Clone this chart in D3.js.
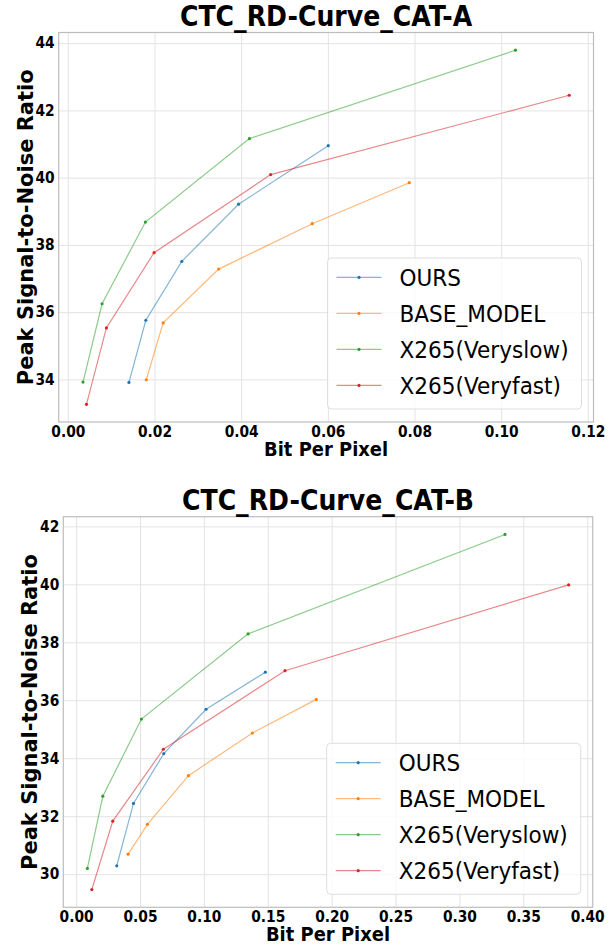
<!DOCTYPE html>
<html>
<head>
<meta charset="utf-8">
<script src="https://cdn.jsdelivr.net/npm/d3@7"></script>
<style>
  body { margin: 0; background: #fff; }
  svg { display: block; font-family: "DejaVu Sans", sans-serif; }
</style>
</head>
<body>
<svg id="chart"></svg>
<script>
const svg_width = 615;
const svg_height = 946;

// series names and colours (matplotlib tab10)
const seriesNames = ["OURS", "BASE_MODEL", "X265(Veryslow)", "X265(Veryfast)"];
const seriesColors = ["#1f77b4", "#ff7f0e", "#2ca02c", "#d62728"];

// CAT-A : [bit per pixel, psnr]
const catA_ours     = [[0.0141, 33.91], [0.0180, 35.76], [0.0263, 37.51], [0.0394, 39.21], [0.0601, 40.95]];
const catA_base     = [[0.0181, 33.99], [0.0220, 35.68], [0.0348, 37.28], [0.0564, 38.63], [0.0788, 39.85]];
const catA_veryslow = [[0.0035, 33.92], [0.0079, 36.25], [0.0179, 38.68], [0.0419, 41.16], [0.1033, 43.79]];
const catA_veryfast = [[0.0043, 33.26], [0.0089, 35.53], [0.0199, 37.77], [0.0468, 40.09], [0.1157, 42.45]];

// CAT-B : [bit per pixel, psnr]
const catB_ours     = [[0.0318, 30.29], [0.0449, 32.44], [0.0686, 34.16], [0.1017, 35.69], [0.1481, 36.97]];
const catB_base     = [[0.0407, 30.69], [0.0558, 31.72], [0.0879, 33.40], [0.1380, 34.87], [0.1880, 36.03]];
const catB_veryslow = [[0.0088, 30.20], [0.0209, 32.69], [0.0511, 35.35], [0.1346, 38.29], [0.3357, 41.72]];
const catB_veryfast = [[0.0123, 29.47], [0.0287, 31.83], [0.0683, 34.31], [0.1635, 37.02], [0.3855, 39.98]];

// tick values
const catA_xTicks = [0.00, 0.02, 0.04, 0.06, 0.08, 0.10, 0.12];
const catA_yTicks = [34, 36, 38, 40, 42, 44];
const catB_xTicks = [0.00, 0.05, 0.10, 0.15, 0.20, 0.25, 0.30, 0.35, 0.40];
const catB_yTicks = [30, 32, 34, 36, 38, 40, 42];

const panels = [
  { title: "CTC_RD-Curve_CAT-A",
    series: [catA_ours, catA_base, catA_veryslow, catA_veryfast],
    xTicks: catA_xTicks, yTicks: catA_yTicks,
    box: { left: 58.7, right: 593.5, top: 32.5, bottom: 422 }, ylabelX: 32.5 },
  { title: "CTC_RD-Curve_CAT-B",
    series: [catB_ours, catB_base, catB_veryslow, catB_veryfast],
    xTicks: catB_xTicks, yTicks: catB_yTicks,
    box: { left: 63.3, right: 592.7, top: 516.7, bottom: 907.3 }, ylabelX: 37 }
];

// the picture is slightly squeezed sideways, so text gets a small x scale
const squeeze = 0.92;

const svg = d3.select("svg#chart")
    .attr("width", svg_width)
    .attr("height", svg_height);

panels.forEach(draw_panel);

// matplotlib style 5% margins around data
function padded(ext) {
  let pad = (ext[1] - ext[0]) * 0.05;
  return [ext[0] - pad, ext[1] + pad];
}

function label(g, x, y, txt, size, weight, anchor) {
  return g.append("text")
    .attr("transform", "translate(" + x + "," + y + ") scale(" + squeeze + ",1)")
    .attr("text-anchor", anchor)
    .attr("font-size", size)
    .attr("font-weight", weight)
    .text(txt);
}

function draw_panel(p) {
  let b = p.box;
  let all = p.series.flat();

  let x = d3.scaleLinear()
      .domain(padded(d3.extent(all, d => d[0])))
      .range([b.left, b.right]);
  let y = d3.scaleLinear()
      .domain(padded(d3.extent(all, d => d[1])))
      .range([b.bottom, b.top]);

  let g = svg.append("g");

  // grid
  g.append("g")
    .attr("transform", "translate(0," + b.bottom + ")")
    .call(d3.axisBottom(x).tickValues(p.xTicks).tickSize(-(b.bottom - b.top)).tickFormat(""))
    .call(a => a.select(".domain").remove())
    .selectAll("line").attr("stroke", "#e3e3e3").attr("stroke-width", 1);

  g.append("g")
    .attr("transform", "translate(" + b.left + ",0)")
    .call(d3.axisLeft(y).tickValues(p.yTicks).tickSize(-(b.right - b.left)).tickFormat(""))
    .call(a => a.select(".domain").remove())
    .selectAll("line").attr("stroke", "#e3e3e3").attr("stroke-width", 1);

  // tick labels
  let xa = g.append("g")
    .attr("transform", "translate(0," + b.bottom + ")")
    .call(d3.axisBottom(x).tickValues(p.xTicks).tickSize(0).tickPadding(4).tickFormat(d3.format(".2f")));
  xa.select(".domain").remove();
  xa.selectAll("text")
    .attr("transform", "scale(" + squeeze + ",1)")
    .attr("font-family", "DejaVu Sans").attr("font-size", 15).attr("font-weight", "bold").attr("fill", "#000");

  let ya = g.append("g")
    .attr("transform", "translate(" + b.left + ",0)")
    .call(d3.axisLeft(y).tickValues(p.yTicks).tickSize(0).tickPadding(4 / squeeze).tickFormat(d3.format("d")));
  ya.select(".domain").remove();
  ya.selectAll("text")
    .attr("transform", "scale(" + squeeze + ",1)")
    .attr("font-family", "DejaVu Sans").attr("font-size", 15).attr("font-weight", "bold").attr("fill", "#000");

  // frame
  g.append("rect")
    .attr("x", b.left).attr("y", b.top)
    .attr("width", b.right - b.left).attr("height", b.bottom - b.top)
    .attr("fill", "none").attr("stroke", "#bdbdbd").attr("stroke-width", 1.2);

  // curves
  let line = d3.line().x(d => x(d[0])).y(d => y(d[1]));
  p.series.forEach((s, i) => {
    g.append("path")
      .datum(s)
      .attr("d", line)
      .attr("fill", "none")
      .attr("stroke", seriesColors[i])
      .attr("stroke-opacity", 0.55)
      .attr("stroke-width", 1.2);
    g.selectAll(".pt" + i)
      .data(s)
      .enter()
      .append("circle")
      .attr("class", "pt" + i)
      .attr("cx", d => x(d[0]))
      .attr("cy", d => y(d[1]))
      .attr("r", 1.6)
      .attr("fill", seriesColors[i]);
  });

  // titles and axis labels
  label(g, (b.left + b.right) / 2, b.top - 6.5, p.title, 28, "bold", "middle")
    .attr("transform", "translate(" + ((b.left + b.right) / 2) + "," + (b.top - 6.5) + ") scale(0.9,1)");
  label(g, (b.left + b.right) / 2, b.bottom + 34, "Bit Per Pixel", 19.5, "bold", "middle");

  g.append("text")
    .attr("transform", "translate(" + p.ylabelX + "," + ((b.top + b.bottom) / 2) + ") rotate(-90)")
    .attr("text-anchor", "middle")
    .attr("font-size", 21).attr("font-weight", "bold")
    .text("Peak Signal-to-Noise Ratio");

  // legend, lower right
  let lw = 254, lh = 151;
  let lx = b.right - 12 - lw, ly = b.bottom - 13 - lh;
  let lg = g.append("g").attr("transform", "translate(" + lx + "," + ly + ")");
  lg.append("rect")
    .attr("width", lw).attr("height", lh).attr("rx", 4)
    .attr("fill", "#fff").attr("fill-opacity", 0.8)
    .attr("stroke", "#dedede").attr("stroke-width", 1);

  seriesNames.forEach((name, i) => {
    let yy = 19.4 + i * 36;
    lg.append("line")
      .attr("x1", 9).attr("x2", 54).attr("y1", yy).attr("y2", yy)
      .attr("stroke", seriesColors[i]).attr("stroke-opacity", 0.55).attr("stroke-width", 1.2);
    lg.append("circle")
      .attr("cx", 31.5).attr("cy", yy).attr("r", 1.6).attr("fill", seriesColors[i]);
    label(lg, 72, yy + 8.5, name, 23.5, "normal", "start");
  });
}
</script>
</body>
</html>
